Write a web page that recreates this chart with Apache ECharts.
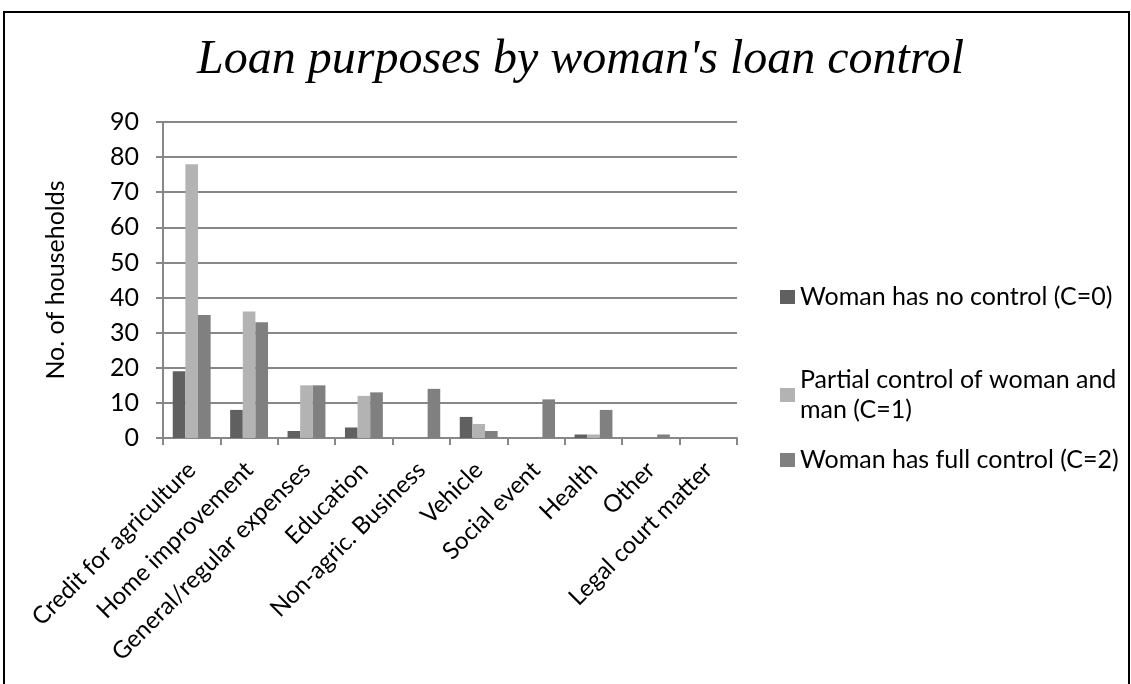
<!DOCTYPE html>
<html>
<head>
    <meta charset="utf-8">
    <title>Loan purposes</title>
    <script src="https://cdn.jsdelivr.net/npm/echarts@6/dist/echarts.min.js"></script>
    <style>
        html, body { margin: 0; padding: 0; background: #fff; }
    </style>
</head>
<body>
    <div id="main" style="width: 1131px;height:684px;"></div>
    <script type="text/javascript">
        // data
        var categories = ['Credit for agriculture', 'Home improvement', 'General/regular expenses',
            'Education', 'Non-agric. Business', 'Vehicle', 'Social event', 'Health', 'Other', 'Legal court matter'];
        var seriesNames = ['Woman has no control (C=0)', 'Partial control of woman and man (C=1)',
            'Woman has full control (C=2)'];
        var noControl = [19, 8, 2, 3, 0, 6, 0, 1, 0, 0];
        var partialControl = [78, 36, 15, 12, 0, 4, 0, 1, 0, 0];
        var fullControl = [35, 33, 15, 13, 14, 2, 11, 8, 1, 0];
        var yTicks = [0, 10, 20, 30, 40, 50, 60, 70, 80, 90];

        var colors = ['#606060', '#b3b3b3', '#808080'];
        var gridColor = '#878787';
        var font = 'Lato';

        var myChart = echarts.init(document.getElementById('main'));

        // one legend block per series so each sits where Excel put it
        function legendFor(i, top) {
            return {
                orient: 'vertical',
                left: 780,
                top: top,
                padding: 0,
                data: [seriesNames[i]],
                itemWidth: 15,
                itemHeight: 14,
                itemGap: 0,
                icon: 'rect',
                formatter: function (name) {
                    return name.replace(' man (', '\nman (');
                },
                textStyle: { fontFamily: font, fontSize: 25, color: '#000', lineHeight: 30 }
            };
        }

        var option = {
            animation: false,
            color: colors,
            title: {
                text: "Loan purposes by woman's loan control",
                left: 192,
                top: 31,
                textStyle: {
                    fontFamily: 'Liberation Serif',
                    fontStyle: 'italic',
                    fontWeight: 'normal',
                    fontSize: 48,
                    color: '#000'
                }
            },
            graphic: [{
                type: 'rect',
                shape: { x: 4, y: 12, width: 1125, height: 700 },
                style: { fill: 'none', stroke: '#000', lineWidth: 2 },
                silent: true
            }],
            legend: [legendFor(0, 282), legendFor(1, 365), legendFor(2, 445)],
            grid: { left: 163, right: 394, top: 122, bottom: 246, containLabel: false },
            xAxis: {
                type: 'category',
                data: categories,
                axisLine: { lineStyle: { color: gridColor, width: 2 } },
                axisTick: { show: true, length: 7, lineStyle: { color: gridColor, width: 2 } },
                axisLabel: {
                    rotate: 45,
                    interval: 0,
                    margin: 28,
                    fontFamily: font,
                    fontSize: 24,
                    color: '#000'
                }
            },
            yAxis: {
                type: 'value',
                min: yTicks[0],
                max: yTicks[yTicks.length - 1],
                interval: 10,
                name: 'No. of households',
                nameLocation: 'middle',
                nameGap: 95,
                nameTextStyle: { fontFamily: font, fontSize: 25, color: '#000' },
                axisLine: { show: true, lineStyle: { color: gridColor, width: 2 } },
                axisTick: { show: true, length: 7, lineStyle: { color: gridColor, width: 2 } },
                axisLabel: { fontFamily: font, fontSize: 25, color: '#000', margin: 24 },
                splitLine: { lineStyle: { color: gridColor, width: 2 } }
            },
            series: [
                { name: seriesNames[0], type: 'bar', data: noControl, barGap: 0, barCategoryGap: '34%' },
                { name: seriesNames[1], type: 'bar', data: partialControl, barGap: 0, barCategoryGap: '34%' },
                { name: seriesNames[2], type: 'bar', data: fullControl, barGap: 0, barCategoryGap: '34%' }
            ]
        };

        myChart.setOption(option);
    </script>
</body>
</html>
